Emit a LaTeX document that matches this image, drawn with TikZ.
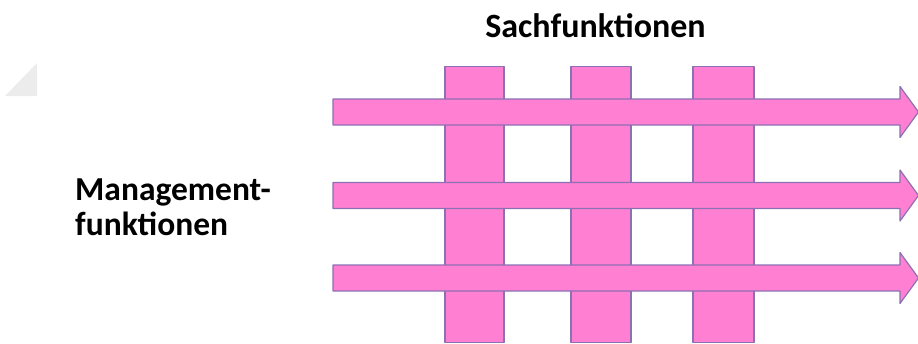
\documentclass[tikz,border=0pt]{standalone}
\usepackage{fontspec}
\setmainfont{Carlito}
\definecolor{pinkfill}{RGB}{255,128,210}
\definecolor{pinkedge}{RGB}{140,112,180}
\definecolor{ghost}{RGB}{236,236,236}
\begin{document}
\begin{tikzpicture}[x=1pt,y=-1pt,
  band/.style={fill=pinkfill,draw=pinkedge,line width=1.2pt,line join=round},
  lbl/.style={inner sep=0pt,font=\bfseries}]
\useasboundingbox (0,0) rectangle (918,343);
\fill[ghost] (5,96) -- (37,63) -- (37,96) -- cycle;
% vertical bars
\foreach \xa/\xb in {445/504,571/631,693/754}
  \draw[band] (\xa,66.5) rectangle (\xb,342.5);
% horizontal arrows
\foreach \yc in {112,195.5,278}
  \draw[band] (333,\yc-13) -- (900,\yc-13) -- (900,\yc-25.5) -- (918.5,\yc)
     -- (900,\yc+25.5) -- (900,\yc+13) -- (333,\yc+13) -- cycle;
\node[lbl,anchor=base,font=\fontsize{34}{40}\bfseries\selectfont] (sach) at (595.5,37) {Sachfunktionen};
\node[lbl,anchor=base west,font=\fontsize{33.5}{40}\bfseries\selectfont] (man1) at (75,200) {Management-};
\node[lbl,anchor=base west,font=\fontsize{33.5}{40}\bfseries\selectfont] (man2) at (75,235) {funktionen};
\end{tikzpicture}
\end{document}
